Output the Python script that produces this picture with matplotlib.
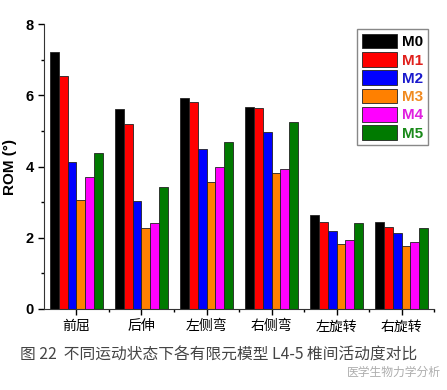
import numpy as np
import matplotlib
matplotlib.use("Agg")
import matplotlib.pyplot as plt
from matplotlib.ticker import MultipleLocator

plt.rcParams['font.family'] = ['Liberation Sans', 'Noto Sans CJK SC', 'DejaVu Sans']

# data
categories = ["前屈", "后伸", "左侧弯", "右侧弯", "左旋转", "右旋转"]
models = ["M0", "M1", "M2", "M3", "M4", "M5"]
m0 = [7.22, 5.62, 5.91, 5.67, 2.65, 2.44]
m1 = [6.53, 5.18, 5.82, 5.64, 2.44, 2.30]
m2 = [4.12, 3.03, 4.50, 4.98, 2.18, 2.12]
m3 = [3.05, 2.26, 3.56, 3.81, 1.83, 1.76]
m4 = [3.70, 2.42, 3.98, 3.92, 1.93, 1.88]
m5 = [4.37, 3.42, 4.68, 5.25, 2.41, 2.26]
series = [m0, m1, m2, m3, m4, m5]
colors = ["#000000", "#ff0000", "#0000ff", "#ff8000", "#ff00ff", "#007a00"]
text_colors = ["#000000", "#e0201c", "#1a1acc", "#f08a20", "#e020e0", "#1a8a1a"]

fig = plt.figure(figsize=(4.47, 3.90), dpi=100)
ax = fig.add_axes([0.0984, 0.2077, 0.8726, 0.7307])

x = np.arange(len(categories))
bw = 0.136
for i, (vals, c) in enumerate(zip(series, colors)):
    off = (i - 2.5) * bw
    ax.bar(x + off, vals, bw, color=c, edgecolor="#222222", linewidth=0.6, label=models[i])

ax.set_xlim(-0.5, 5.5)
ax.set_ylim(0, 8)
ax.yaxis.set_major_locator(MultipleLocator(2))
ax.yaxis.set_minor_locator(MultipleLocator(1))
ax.set_xticks(x)
ax.set_xticks(x + 0.5, minor=True)
ax.set_xticklabels(categories, family=['Noto Sans CJK SC'], fontsize=10)
ax.tick_params(axis='both', which='major', direction='out', length=4, width=1)
ax.tick_params(axis='both', which='minor', direction='out', length=2.5, width=1)
for lab in ax.get_yticklabels():
    lab.set_fontweight('bold')
    lab.set_fontsize(10.5)
ax.set_ylabel("ROM (°)", fontsize=11, fontweight='bold', labelpad=6)
ax.spines['top'].set_visible(False)
ax.spines['right'].set_visible(False)
ax.spines['left'].set_color('#333333')
ax.spines['bottom'].set_color('#333333')

leg = ax.legend(loc='upper right', bbox_to_anchor=(0.985, 0.982), fontsize=11,
                handlelength=2.3, handleheight=1.1, labelspacing=0.18,
                handletextpad=0.35, borderpad=0.3, borderaxespad=0,
                fancybox=False, edgecolor='#888888', framealpha=1)
for t, c in zip(leg.get_texts(), text_colors):
    t.set_color(c)
    t.set_fontweight('bold')

fig.text(0.045, 0.09, "图 22  不同运动状态下各有限元模型 L4-5 椎间活动度对比",
         family=['Noto Sans CJK SC'], fontsize=11.3, color='#444444', va='center')
fig.text(0.775, 0.045, "医学生物力学分析", family=['Noto Sans CJK SC'],
         fontsize=8.5, color='#999999', va='center', alpha=0.8)

fig.savefig("out.png", dpi=100)
